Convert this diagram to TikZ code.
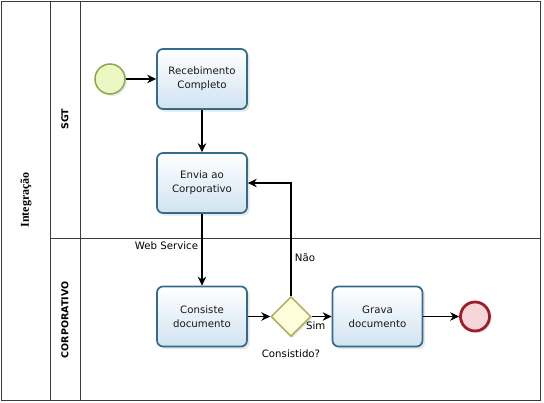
\documentclass[tikz,border=0pt]{standalone}
\usepackage{fontspec}
\setmainfont{DejaVu Sans}
\newfontfamily\poolfont{Liberation Serif}
\usetikzlibrary{shapes.geometric,arrows.meta,shadows}

\definecolor{taskline}{HTML}{356A88}
\definecolor{taskfill}{HTML}{D0E3F2}
\definecolor{startline}{HTML}{86A94A}
\definecolor{startfill}{HTML}{EDF7C4}
\definecolor{endline}{HTML}{9E1D28}
\definecolor{endfill}{HTML}{F7D6DA}
\definecolor{gateline}{HTML}{ADAC5A}
\definecolor{gatefill}{HTML}{FDFDDB}
\definecolor{poolline}{HTML}{3A3A3A}

\begin{document}
\begin{tikzpicture}[x=1pt,y=-1pt,
    font=\fontsize{10.2}{14}\selectfont,
    task/.style ={rectangle, rounded corners=6pt, draw=taskline, line width=1.7pt,
      top color=white, bottom color=taskfill, minimum width=90pt, minimum height=60pt,
      align=center, text=black!90,
      drop shadow={opacity=0.2, shadow xshift=2.5pt, shadow yshift=-2.5pt}},
    startevent/.style ={circle, draw=startline, line width=1.5pt, fill=startfill,
      minimum size=30pt, inner sep=0pt,
      drop shadow={opacity=0.15, shadow xshift=2pt, shadow yshift=-2pt}},
    endevent/.style ={circle, draw=endline, line width=2.8pt, fill=endfill,
      minimum size=29pt, inner sep=0pt,
      drop shadow={opacity=0.15, shadow xshift=2pt, shadow yshift=-2pt}},
    gateway/.style ={diamond, draw=gateline, line width=1.5pt, fill=gatefill,
      minimum size=40pt, inner sep=0pt,
      drop shadow={opacity=0.15, shadow xshift=2pt, shadow yshift=-2pt}},
    lanelabel/.style ={rotate=90, font=\fontsize{9.5}{11}\selectfont\bfseries},
    flow/.style ={line width=1.1pt, -{Stealth[length=9pt,width=8.5pt]}}]
   \useasboundingbox (0,0) rectangle (544,402);
   % pool and lanes
   \draw[poolline, line width=1pt] (1,1) rectangle (540,400);
   \draw[poolline, line width=1pt] (50,1) -- (50,400);
   \draw[poolline, line width=1pt] (80,1) -- (80,400);
   \draw[poolline, line width=1pt] (50,238) -- (540,238);
   \node[rotate=90, font=\fontsize{12}{13}\poolfont\bfseries] (pool) at (26,200) {Integração};
   \node[lanelabel] (sgt) at (65,119) {SGT};
   \node[lanelabel] (corp) at (65,320) {CORPORATIVO};
   % elements
   \node[startevent] (start) at (110,79) {};
   \node[task] (receb) at (202,79) {Recebimento\\Completo};
   \node[task] (envia) at (202,183) {Envia ao\\Corporativo};
   \node[task] (consiste) at (202,316.5) {Consiste\\documento};
   \node[gateway, label={[label distance=9pt]below:Consistido?}] (gate) at (291,316.5) {};
   \node[task] (grava) at (377.5,316.5) {Grava\\documento};
   \node[endevent] (fim) at (475,316.5) {};
   % flows
   \draw[flow] (start) -- (receb);
   \draw[flow] (receb) -- (envia);
   \draw[flow] (envia) -- node[left, pos=0.44] {Web Service} (consiste);
   \draw[flow] (consiste) -- (gate);
   \draw[flow] (gate) -- node[below, pos=0.2, yshift=-1pt] {Sim} (grava);
   \draw[flow] (grava) -- (fim);
   \draw[flow] (gate.north) |- node[right, pos=0.17] {Não} (envia.east);
 \end{tikzpicture}
\end{document}
